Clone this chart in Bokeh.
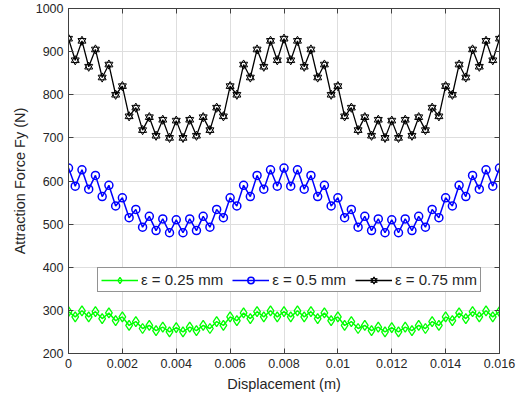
import numpy as np
from bokeh.plotting import figure
from bokeh.models import LinearAxis, FixedTicker, Legend, LegendItem, Range1d
from bokeh.embed import file_html
from bokeh.resources import INLINE

# ---- data ----
displacement = np.linspace(0, 0.016, 65)

force_025 = [297, 285, 299, 285, 297, 281, 294, 276, 285, 265, 274, 258, 265, 253, 261, 250,
             260, 250, 261, 253, 265, 258, 274, 265, 285, 276, 294, 281, 297, 285, 299, 285,
             297, 285, 299, 285, 297, 281, 294, 276, 285, 265, 274, 258, 265, 253, 261, 250,
             260, 250, 261, 253, 265, 258, 274, 265, 285, 276, 294, 281, 297, 285, 299, 285, 297]

force_05 = [630, 588, 626, 581, 613, 564, 590, 542, 561, 515, 534, 493, 518, 485, 512, 480,
            510, 480, 512, 485, 518, 493, 534, 515, 561, 542, 590, 564, 613, 581, 626, 588,
            630, 588, 626, 581, 613, 564, 590, 542, 561, 515, 534, 493, 518, 485, 512, 480,
            510, 480, 512, 485, 518, 493, 534, 515, 561, 542, 590, 564, 613, 581, 626, 588, 630]

force_075 = [930, 880, 925, 865, 905, 840, 870, 800, 820, 750, 770, 718, 748, 705, 742, 700,
             740, 700, 742, 705, 748, 718, 770, 750, 820, 800, 870, 840, 905, 865, 925, 880,
             930, 880, 925, 865, 905, 840, 870, 800, 820, 750, 770, 718, 748, 705, 742, 700,
             740, 700, 742, 705, 748, 718, 770, 750, 820, 800, 870, 840, 905, 865, 925, 880, 930]

labels = ["\u03b5 = 0.25 mm", "\u03b5 = 0.5 mm", "\u03b5 = 0.75 mm"]

x_ticks = [0, 0.002, 0.004, 0.006, 0.008, 0.01, 0.012, 0.014, 0.016]
x_tick_labels = ["0", "0.002", "0.004", "0.006", "0.008", "0.01", "0.012", "0.014", "0.016"]
y_ticks = [200, 300, 400, 500, 600, 700, 800, 900, 1000]

FONT = "Liberation Sans"
TXT = "#262626"
AX = "#404040"

p = figure(frame_width=431, frame_height=345, output_backend="svg", toolbar_location=None,
           x_range=Range1d(0, 0.016), y_range=Range1d(200, 1000),
           min_border_left=68, min_border_right=20, min_border_top=8, min_border_bottom=8)
p.background_fill_color = "white"
p.outline_line_color = AX

for ax in p.xaxis:
    ax.ticker = FixedTicker(ticks=x_ticks)
    ax.major_label_overrides = {t: l for t, l in zip(x_ticks, x_tick_labels)}
    ax.axis_label = "Displacement (m)"
for ax in p.yaxis:
    ax.ticker = FixedTicker(ticks=y_ticks)
    ax.axis_label = "Attraction Force Fy (N)"

for ax in list(p.xaxis) + list(p.yaxis):
    ax.major_tick_in = 5
    ax.major_tick_out = 0
    ax.minor_tick_line_color = None
    ax.axis_line_color = AX
    ax.major_tick_line_color = AX
    ax.major_label_text_font = FONT
    ax.major_label_text_font_size = "12.5px"
    ax.major_label_text_color = TXT
    ax.axis_label_text_font = FONT
    ax.axis_label_text_font_size = "14.5px"
    ax.axis_label_text_font_style = "normal"
    ax.axis_label_text_color = TXT
    ax.major_label_standoff = 5
    ax.axis_label_standoff = 5

# box-style ticks on top and right (labels not drawn)
top = LinearAxis(ticker=FixedTicker(ticks=x_ticks), major_label_text_font_size="1px",
                 major_label_text_color=None,
                 major_tick_in=5, major_tick_out=0, minor_tick_line_color=None,
                 axis_line_color=AX, major_tick_line_color=AX, major_label_standoff=0)
right = LinearAxis(ticker=FixedTicker(ticks=y_ticks), major_label_text_font_size="1px",
                   major_label_text_color=None,
                   major_tick_in=5, major_tick_out=0, minor_tick_line_color=None,
                   axis_line_color=AX, major_tick_line_color=AX, major_label_standoff=0)
p.add_layout(top, "above")
p.add_layout(right, "right")

p.xgrid.ticker = FixedTicker(ticks=x_ticks)
p.ygrid.ticker = FixedTicker(ticks=y_ticks)
p.xgrid.grid_line_color = "#dedede"
p.ygrid.grid_line_color = "#dedede"

# series
g_line = p.line(displacement, force_025, line_color="#00ff00", line_width=1.5)
g_mark = p.scatter(displacement, force_025, marker="diamond", size=10, line_color="#00ff00",
                   fill_color=None, line_width=1.3)

b_line = p.line(displacement, force_05, line_color="#0000ff", line_width=1.5)
b_mark = p.scatter(displacement, force_05, marker="circle", size=8, line_color="#0000ff",
                   fill_color=None, line_width=1.5)

k_line = p.line(displacement, force_075, line_color="black", line_width=1.3)
k_m1 = p.scatter(displacement, force_075, marker="triangle", size=8, line_color="black",
                 fill_color=None, line_width=1)
k_m2 = p.scatter(displacement, force_075, marker="inverted_triangle", size=8, line_color="black",
                 fill_color=None, line_width=1)

legend = Legend(items=[LegendItem(label=labels[0], renderers=[g_line, g_mark]),
                       LegendItem(label=labels[1], renderers=[b_line, b_mark]),
                       LegendItem(label=labels[2], renderers=[k_line, k_m1, k_m2])],
                orientation="horizontal", location=(29, 61), margin=0,
                padding=3, spacing=9, label_standoff=3, glyph_width=37, glyph_height=16,
                label_height=16, label_text_font=FONT, label_text_font_size="15px",
                label_text_color=TXT, border_line_color=TXT, border_line_width=1,
                background_fill_color="white", background_fill_alpha=1)
p.add_layout(legend)

open("out.html", "w").write(file_html(p, INLINE))
